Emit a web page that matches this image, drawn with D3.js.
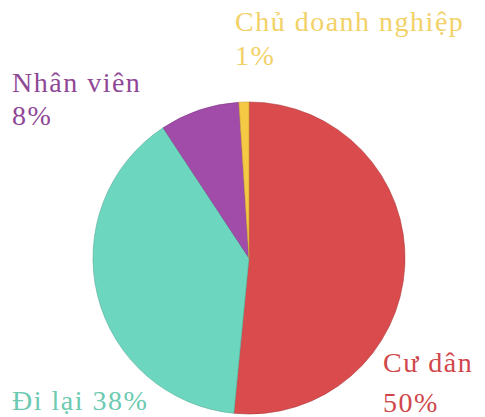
<!DOCTYPE html>
<html>
<head>
<meta charset="utf-8">
<script src="https://cdn.jsdelivr.net/npm/d3@7"></script>
<style>
  body { margin: 0; background: #fff; }
</style>
</head>
<body>
<div id="chart"></div>
<script>
// du lieu
var nhom = ["Cư dân", "Đi lại", "Nhân viên", "Chủ doanh nghiệp"];
var phanTram = [50, 38, 8, 1];
var mauLat = ["#d94b4d", "#6cd6be", "#a14ca8", "#f6c944"];
var mauChu = ["#d0474b", "#6ccab1", "#8f4896", "#f2d167"];

var width = 485, height = 417;
var cx = 249, cy = 258, r = 156;

var canvas = d3.select("#chart").append("svg")
    .attr("width", width).attr("height", height);

var datos = nhom.map(function (d, i) { return { ten: d, gt: phanTram[i], i: i }; });

var pie = d3.pie().sort(null).value(function (d) { return d.gt; });
var arc = d3.arc().innerRadius(0).outerRadius(r);

var g = canvas.append("g").attr("transform", "translate(" + cx + "," + cy + ")");

g.selectAll("path")
    .data(pie(datos))
    .enter().append("path")
    .attr("d", arc)
    .attr("fill", function (d) { return mauLat[d.data.i]; })
    .attr("stroke", function (d) { return d3.color(mauLat[d.data.i]).darker(0.6); })
    .attr("stroke-width", 0.6);

// nhan (vi tri tung dong)
var nhan = [
    { i: 0, x: 383, dong: [["Cư dân", 372], ["50%", 412]] },
    { i: 1, x: 12, dong: [["Đi lại 38%", 410]] },
    { i: 2, x: 12, dong: [["Nhân viên", 92], ["8%", 125]] },
    { i: 3, x: 235, dong: [["Chủ doanh nghiệp", 31], ["1%", 65]] }
];

nhan.forEach(function (n) {
    n.dong.forEach(function (l) {
        canvas.append("text")
            .attr("x", n.x)
            .attr("y", l[1])
            .attr("font-family", "'Liberation Serif', 'Times New Roman', serif")
            .attr("font-size", 28)
            .attr("letter-spacing", 1.5)
            .attr("fill", mauChu[n.i])
            .text(l[0]);
    });
});
</script>
</body>
</html>
